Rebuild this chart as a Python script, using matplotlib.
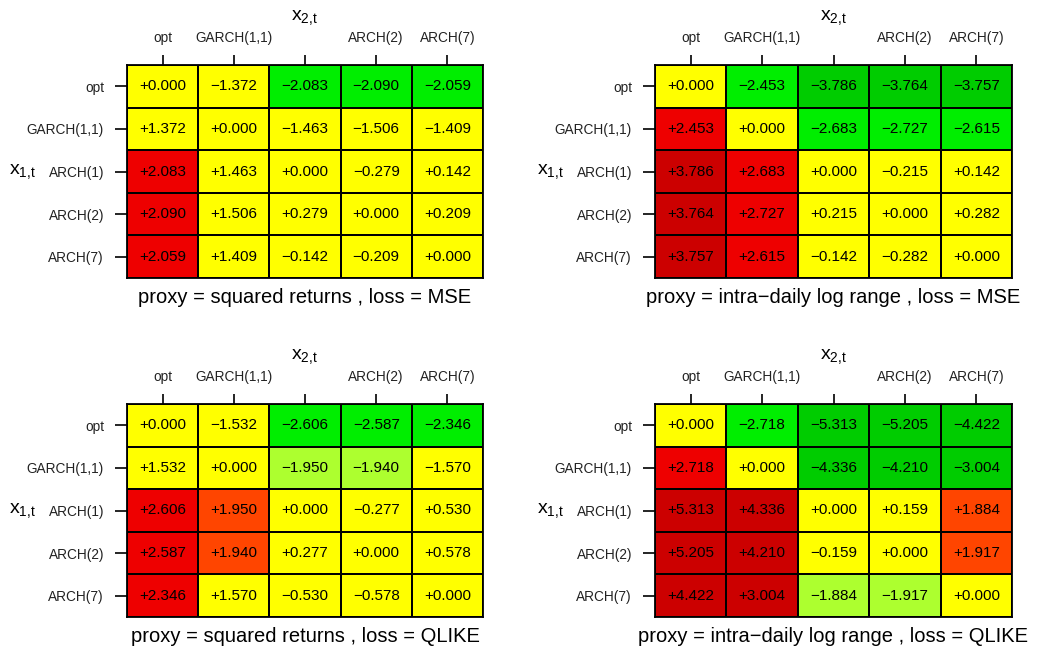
import numpy as np
import matplotlib
matplotlib.use("Agg")
import matplotlib.pyplot as plt
from matplotlib.colors import ListedColormap, BoundaryNorm

plt.rcParams['font.family'] = ['Liberation Sans', 'DejaVu Sans']
plt.rcParams['mathtext.default'] = 'regular'

models = ["opt", "GARCH(1,1)", "ARCH(1)", "ARCH(2)", "ARCH(7)"]
# R dropped the overlapping third label on the top axis
top_labels = ["opt", "GARCH(1,1)", "", "ARCH(2)", "ARCH(7)"]

sq_mse = [[0.000, -1.372, -2.083, -2.090, -2.059],
          [1.372, 0.000, -1.463, -1.506, -1.409],
          [2.083, 1.463, 0.000, -0.279, 0.142],
          [2.090, 1.506, 0.279, 0.000, 0.209],
          [2.059, 1.409, -0.142, -0.209, 0.000]]

lr_mse = [[0.000, -2.453, -3.786, -3.764, -3.757],
          [2.453, 0.000, -2.683, -2.727, -2.615],
          [3.786, 2.683, 0.000, -0.215, 0.142],
          [3.764, 2.727, 0.215, 0.000, 0.282],
          [3.757, 2.615, -0.142, -0.282, 0.000]]

sq_qlike = [[0.000, -1.532, -2.606, -2.587, -2.346],
            [1.532, 0.000, -1.950, -1.940, -1.570],
            [2.606, 1.950, 0.000, -0.277, 0.530],
            [2.587, 1.940, 0.277, 0.000, 0.578],
            [2.346, 1.570, -0.530, -0.578, 0.000]]

lr_qlike = [[0.000, -2.718, -5.313, -5.205, -4.422],
            [2.718, 0.000, -4.336, -4.210, -3.004],
            [5.313, 4.336, 0.000, 0.159, 1.884],
            [5.205, 4.210, -0.159, 0.000, 1.917],
            [4.422, 3.004, -1.884, -1.917, 0.000]]

titles = ["proxy = squared returns , loss = MSE",
          "proxy = intra\u2212daily log range , loss = MSE",
          "proxy = squared returns , loss = QLIKE",
          "proxy = intra\u2212daily log range , loss = QLIKE"]

# significance bands -> colours
bounds = [-100, -2.9, -1.96, -1.645, 1.645, 1.96, 2.9, 100]
colors = ["#00CC00", "#00EE00", "#ADFF2F", "#FFFF00", "#FF4500", "#EE0000", "#CC0000"]
cmap = ListedColormap(colors)
norm = BoundaryNorm(bounds, cmap.N)

W, H = 1037, 652
fig = plt.figure(figsize=(W / 100, H / 100), dpi=100)

# panel boxes in pixels: left, top, right, bottom
boxes = [(127, 65, 483, 278), (655, 65, 1012, 278),
         (127, 404, 483, 617), (655, 404, 1012, 617)]
mats = [sq_mse, lr_mse, sq_qlike, lr_qlike]

for (l, t, r, b), mat, title in zip(boxes, mats, titles):
    ax = fig.add_axes([l / W, 1 - b / H, (r - l) / W, (b - t) / H])
    vals = np.array(mat)
    n = len(models)
    ax.pcolormesh(np.arange(n + 1), np.arange(n + 1), vals, cmap=cmap, norm=norm,
                  edgecolors="black", linewidth=1.3)
    ax.set_xlim(0, n)
    ax.set_ylim(n, 0)
    for i in range(n):
        for j in range(n):
            s = f"{vals[i, j]:+.3f}".replace("-", "\u2212")
            ax.text(j + 0.5, i + 0.5, s, ha="center", va="center", fontsize=11)

    ax.xaxis.tick_top()
    ax.set_xticks(np.arange(n) + 0.5)
    ax.set_xticklabels(top_labels, fontsize=9.8, color="#222222")
    ax.set_yticks(np.arange(n) + 0.5)
    ax.set_yticklabels(models, fontsize=9.8, color="#222222")
    ax.tick_params(axis="x", length=7.5, width=1.2, pad=7)
    ax.tick_params(axis="y", length=8.5, width=1.2, pad=8)
    for sp in ax.spines.values():
        sp.set_linewidth(1.3)

    ax.annotate("$x_{2{,}t}$", xy=(0.5, 1), xycoords="axes fraction",
                xytext=(0, 34), textcoords="offset points",
                ha="center", va="center", fontsize=14)
    ax.annotate("$x_{1{,}t}$", xy=(0, 0.5), xycoords="axes fraction",
                xytext=(-75, 0), textcoords="offset points",
                ha="center", va="center", fontsize=14)
    ax.annotate(title, xy=(0.5, 0), xycoords="axes fraction",
                xytext=(0, -14), textcoords="offset points",
                ha="center", va="center", fontsize=14.5)

fig.savefig("out.png", dpi=100)
